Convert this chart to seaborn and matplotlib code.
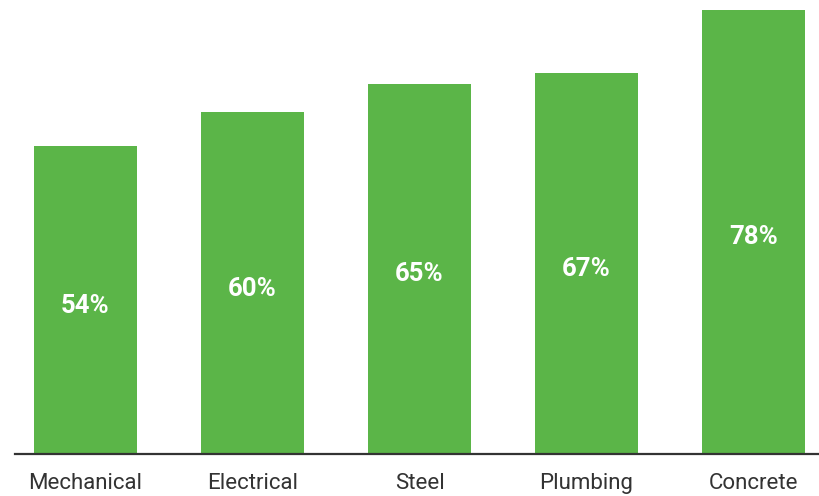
import matplotlib
matplotlib.use("Agg")
import matplotlib.pyplot as plt
import seaborn as sns
import pandas as pd

categories = ["Mechanical", "Electrical", "Steel", "Plumbing", "Concrete"]
values = [54, 60, 65, 67, 78]
value_labels = ["54%", "60%", "65%", "67%", "78%"]

bar_color = "#5bb548"
text_color = "#333333"

sns.set_theme(style="white")
plt.rcParams["font.family"] = ["Roboto", "DejaVu Sans"]

df = pd.DataFrame({"category": categories, "value": values})

fig = plt.figure(figsize=(8.19, 4.96), dpi=100)
ax = fig.add_axes([15 / 819, 42.5 / 496, (819 - 15) / 819, 443.5 / 496])

sns.barplot(data=df, x="category", y="value", color=bar_color, saturation=1,
            width=0.617, linewidth=0, ax=ax)

ax.set_xlim(-0.422, 4.392)
ax.set_ylim(0, 78)

for i, (v, lab) in enumerate(zip(values, value_labels)):
    ax.text(i, v / 2 - 1.0, lab, ha="center", va="center", color="white",
            fontsize=18.5, fontweight="bold")

for side in ["top", "right", "left"]:
    ax.spines[side].set_visible(False)
ax.spines["bottom"].set_color("#333333")
ax.spines["bottom"].set_linewidth(1.6)

ax.set_yticks([])
ax.set_xlabel("")
ax.set_ylabel("")
ax.tick_params(axis="x", length=0, pad=14, labelsize=16, labelcolor=text_color)
for t in ax.get_xticklabels():
    t.set_fontstretch("expanded")

fig.savefig("out.png", dpi=100)
